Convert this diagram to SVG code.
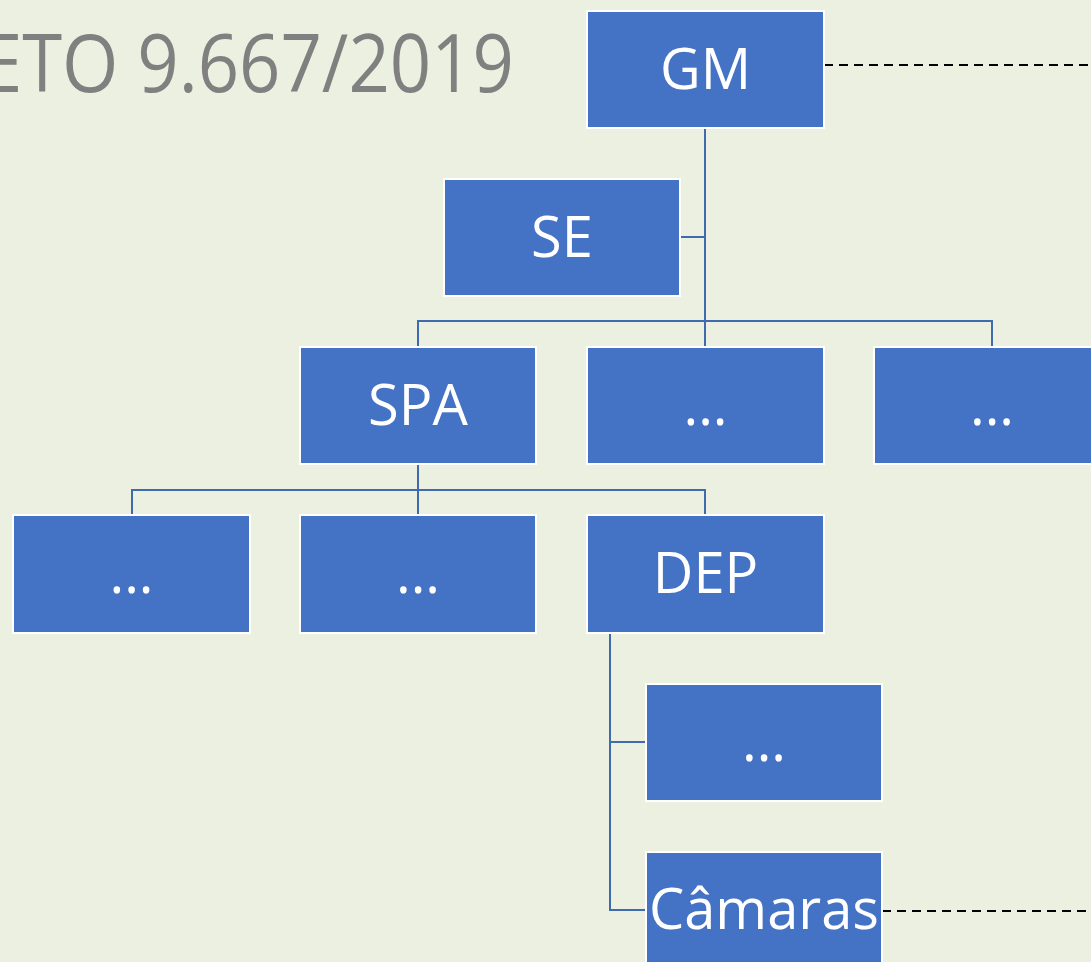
<svg xmlns="http://www.w3.org/2000/svg" width="1091" height="962" viewBox="0 0 1091 962">
<style>
.box{fill:#4472C4;stroke:#FFFFFF;stroke-width:2}
.lbl{font-family:"Open Sans","Noto Sans","Liberation Sans",sans-serif;font-size:56px;fill:#FFFFFF;text-anchor:middle}
.con{stroke:#4169AE;stroke-width:2;fill:none}
.dash{stroke:#000000;stroke-width:2;stroke-dasharray:9 6;fill:none}
.title{font-family:"Open Sans","Noto Sans","Liberation Sans",sans-serif;font-size:80px;fill:#808080}
</style>
<rect x="0" y="0" width="1091" height="962" fill="#ECF0E0"/>
<text class="title" x="-18" y="92" textLength="532" lengthAdjust="spacingAndGlyphs">ETO 9.667/2019</text>
<g id="connectors">
<path class="con" d="M705 128V347M681 237H705M418 347V321H992V347"/>
<path class="con" d="M418 464V490M132 515V490H705V515M418 490V515"/>
<path class="con" d="M610 633V910H646M610 742H646"/>
<path class="dash" d="M824 65H1091"/>
<path class="dash" d="M882 911H1091"/>
</g>
<g id="GM"><rect class="box" x="587" y="11" width="237" height="117"/><text class="lbl" x="705.5" y="89">GM</text></g>
<g id="SE"><rect class="box" x="444" y="179" width="236" height="117"/><text class="lbl" x="562" y="257">SE</text></g>
<g id="SPA"><rect class="box" x="300" y="347" width="236" height="117"/><text class="lbl" x="418" y="425">SPA</text></g>
<g id="n2b"><rect class="box" x="587" y="347" width="237" height="117"/><text class="lbl" x="705.5" y="425">...</text></g>
<g id="n2c"><rect class="box" x="874" y="347" width="237" height="117"/><text class="lbl" x="992" y="425">...</text></g>
<g id="n3a"><rect class="box" x="13" y="515" width="237" height="118"/><text class="lbl" x="131.5" y="593">...</text></g>
<g id="n3b"><rect class="box" x="300" y="515" width="236" height="118"/><text class="lbl" x="418" y="593">...</text></g>
<g id="DEP"><rect class="box" x="587" y="515" width="237" height="118"/><text class="lbl" x="705.5" y="593">DEP</text></g>
<g id="n4a"><rect class="box" x="646" y="684" width="236" height="117"/><text class="lbl" x="764" y="761">...</text></g>
<g id="Camaras"><rect class="box" x="646" y="852" width="236" height="117"/><text class="lbl" x="764" y="929">Câmaras</text></g>
</svg>
